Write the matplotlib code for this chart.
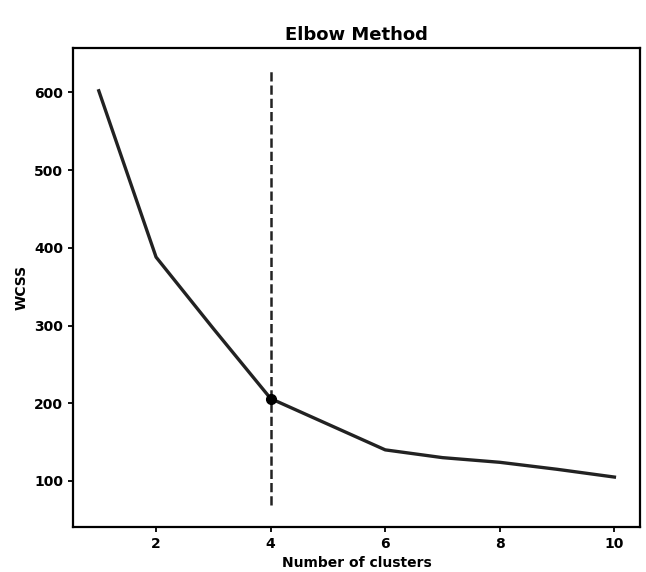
import matplotlib
matplotlib.use('Agg')
import matplotlib.pyplot as plt

# 数据
clusters = [1, 2, 3, 4, 5, 6, 7, 8, 9, 10]
wcss = [602, 388, 296, 206, 173, 140, 130, 124, 115, 105]
elbow_k = 4
elbow_wcss = 206
vline_lo, vline_hi = 69, 629

fig = plt.figure(figsize=(6.46, 5.72), dpi=100)
ax = fig.add_axes([0.113, 0.079, 0.878, 0.837])

ax.plot(clusters, wcss, color='#222222', linewidth=2.4)
ax.vlines(elbow_k, vline_lo, vline_hi, colors='#222222', linestyles='--', linewidth=1.8)
ax.plot([elbow_k], [elbow_wcss], 'o', color='black', markersize=7)

ax.set_xticks([2, 4, 6, 8, 10])
ax.set_yticks([100, 200, 300, 400, 500, 600])
ax.set_title('Elbow Method', fontsize=13, fontweight='semibold')
ax.set_xlabel('Number of clusters', fontsize=10, fontweight='bold')
ax.set_ylabel('WCSS', fontsize=10, fontweight='bold')
ax.tick_params(labelsize=10, width=1.3)
for lbl in ax.get_xticklabels() + ax.get_yticklabels():
    lbl.set_fontweight('bold')
for s in ax.spines.values():
    s.set_linewidth(1.6)

fig.savefig('out.png', dpi=100)
